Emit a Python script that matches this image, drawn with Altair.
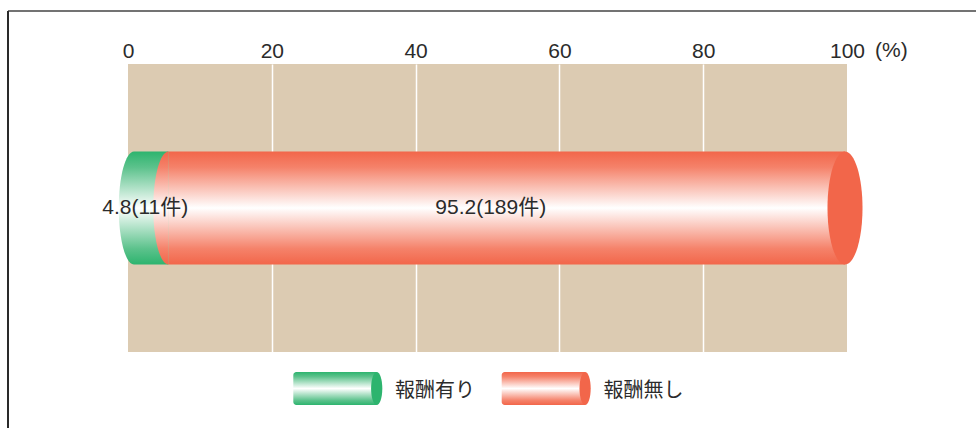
import altair as alt
import pandas as pd

# ---- data -------------------------------------------------------------
categories = ["報酬有り", "報酬無し"]
shares = [4.8, 95.2]            # percent of responses
counts = [11, 189]              # number of responses
tick_values = [0, 20, 40, 60, 80, 100]

starts, ends = [], []
acc = 0.0
for s in shares:
    starts.append(acc)
    acc = round(acc + s, 1)
    ends.append(acc)

df = pd.DataFrame({
    "row": ["回答"] * len(categories),
    "category": categories,
    "share": shares,
    "count": counts,
    "start": starts,
    "end": ends,
})
df["mid"] = (df["start"] + df["end"]) / 2
df["label"] = [f"{s}({c}件)" for s, c in zip(shares, counts)]
one = pd.DataFrame({"k": [0]})

# ---- style ------------------------------------------------------------
FONT = "Liberation Sans, Noto Sans CJK JP"
TXT = "#2b2b2b"
TAN = "#dccbb2"
SOLID = {"報酬有り": "#2db46e", "報酬無し": "#f2664a"}
SOFT = {"報酬有り": "#5cc28c", "報酬無し": "#f5826a"}

W, H = 719, 288
PAD = {"left": 128, "top": 64, "right": 129, "bottom": 76}
BAR_H = 113
LEG_H = 33
NUM_SIZE = 21

# half ellipse opening to the right (back rim of the tube) and full ellipse (end face)
LEFT_RIM = "M 0 -1 A 0.27 1 0 0 0 0 1 Z"
END_FACE = "M 0 -1 A 0.31 1 0 1 1 0 1 A 0.31 1 0 1 1 0 -1 Z"
LEG_FACE = "M 0 -1 A 0.34 1 0 1 1 0 1 A 0.34 1 0 1 1 0 -1 Z"


def tube_gradient(cat):
    edge, soft = SOLID[cat], SOFT[cat]
    return alt.LinearGradient(
        gradient="linear", x1=0, x2=0, y1=0, y2=1,
        stops=[
            alt.GradientStop(color=edge, offset=0),
            alt.GradientStop(color=soft, offset=0.14),
            alt.GradientStop(color="#ffffff", offset=0.5),
            alt.GradientStop(color=soft, offset=0.86),
            alt.GradientStop(color=edge, offset=1),
        ],
    )


x_scale = alt.Scale(domain=[0, 100], nice=False, zero=False)
y_scale = alt.Scale(type="band", paddingInner=0, paddingOuter=0.774)
x_axis = alt.Axis(
    orient="top", values=tick_values, title=None, labelFlush=False,
    labelOverlap=False, domain=False, ticks=False, tickSize=0,
    labelPadding=3, labelFont=FONT, labelFontSize=NUM_SIZE, labelColor=TXT,
    grid=True, gridColor="white", gridWidth=1.5,
    gridOpacity={"condition": {"test": "datum.value === 0 || datum.value === 100", "value": 0}, "value": 1},
)
Y = alt.Y("row:N", axis=None, scale=y_scale)

base = alt.Chart(df)
layers = []

OFF_L = 6   # tube starts slightly right of the zero line
OFF_R = -2

for i, cat in enumerate(categories):
    sub = base.transform_filter(alt.datum.category == cat)
    grad = tube_gradient(cat)
    layers.append(
        sub.mark_rect(fill=grad, xOffset=OFF_L,
                      x2Offset=(OFF_R if i == len(categories) - 1 else OFF_L)).encode(
            x=alt.X("start:Q", scale=x_scale, axis=x_axis),
            x2="end:Q",
            y=Y,
        )
    )
    layers.append(
        sub.mark_point(shape=LEFT_RIM, size=BAR_H ** 2, filled=True, fill=grad,
                       opacity=1, strokeWidth=0, xOffset=OFF_L).encode(
            x=alt.X("start:Q", scale=x_scale, axis=x_axis),
            y=Y,
        )
    )

# end face of the tube
last = categories[-1]
layers.append(
    base.transform_filter(alt.datum.category == last)
    .mark_point(shape=END_FACE, size=BAR_H ** 2, filled=True, fill=SOLID[last],
                opacity=1, strokeWidth=0, xOffset=OFF_R)
    .encode(x=alt.X("end:Q", scale=x_scale, axis=x_axis), y=Y)
)

# value labels
for cat, dx in zip(categories, [0, -14]):
    layers.append(
        base.transform_filter(alt.datum.category == cat)
        .mark_text(font=FONT, fontSize=NUM_SIZE, color=TXT, align="center",
                   baseline="middle", dx=dx)
        .encode(x=alt.X("mid:Q", scale=x_scale, axis=x_axis), y=Y, text="label:N")
    )

# unit marker next to the last tick label
layers.append(
    alt.Chart(one).mark_text(text="(%)", font=FONT, fontSize=NUM_SIZE, color=TXT,
                              align="left", baseline="bottom", dx=28)
    .encode(x=alt.datum(100, scale=x_scale), y=alt.value(-3))
)

# legend: small tubes with labels
leg_y = 324.5
for cat, lx in zip(categories, [165.3, 373.7]):
    grad = tube_gradient(cat)
    sub = base.transform_filter(alt.datum.category == cat)
    layers.append(
        sub.mark_rect(fill=grad, cornerRadiusTopLeft=3, cornerRadiusBottomLeft=3).encode(
            x=alt.value(lx), x2=alt.value(lx + 83.4),
            y=alt.value(leg_y - LEG_H / 2), y2=alt.value(leg_y + LEG_H / 2),
        )
    )
    layers.append(
        sub.mark_point(shape=LEG_FACE, size=LEG_H ** 2, filled=True, fill=SOLID[cat],
                       opacity=1, strokeWidth=0).encode(
            x=alt.value(lx + 83.4), y=alt.value(leg_y),
        )
    )
    layers.append(
        sub.mark_text(font=FONT, fontSize=20, color=TXT, align="left", baseline="middle").encode(
            x=alt.value(lx + 101.7), y=alt.value(leg_y + 2.5), text="category:N",
        )
    )

# frame lines along the top and left edges
layers.append(
    alt.Chart(one).mark_rule(color="#444444", strokeWidth=1.5).encode(
        x=alt.value(8 - PAD["left"]), x2=alt.value(976 - PAD["left"]),
        y=alt.value(11 - PAD["top"]),
    )
)
layers.append(
    alt.Chart(one).mark_rule(color="#2a2a2a", strokeWidth=2).encode(
        x=alt.value(8 - PAD["left"]),
        y=alt.value(11 - PAD["top"]), y2=alt.value(428 - PAD["top"]),
    )
)

chart = (
    alt.layer(*layers)
    .properties(width=W, height=H, padding=PAD, background="white",
                autosize=alt.AutoSizeParams(type="none"))
    .configure_view(fill=TAN, strokeWidth=0)
)

chart.save("out.html", embed_options={"renderer": "svg", "actions": False})
